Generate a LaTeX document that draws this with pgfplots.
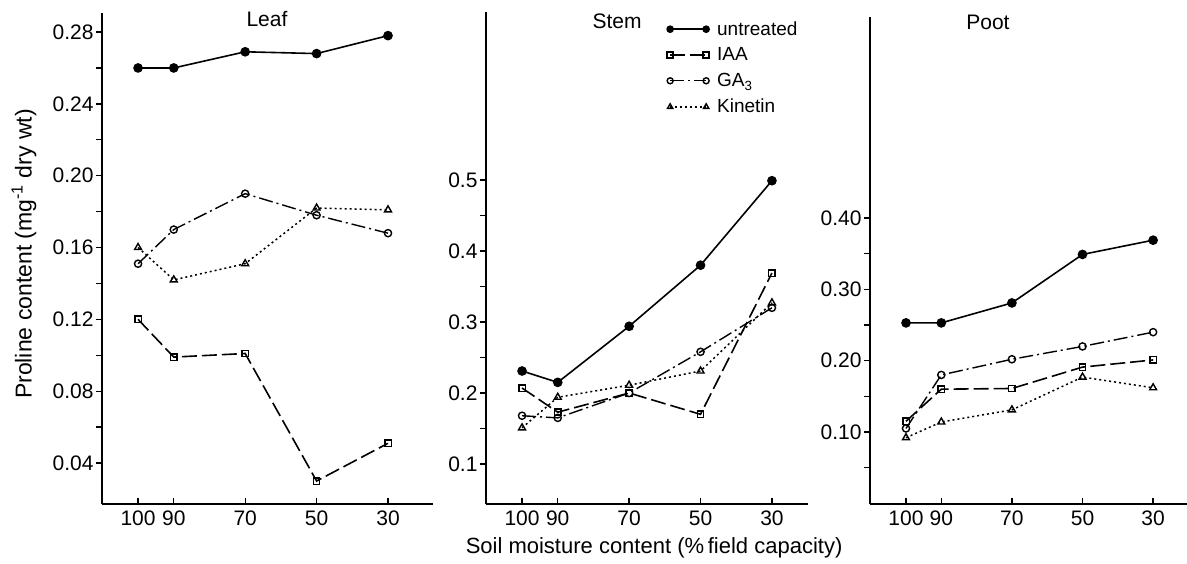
\documentclass[border=0pt]{standalone}
\usepackage{pgfplots}
\pgfplotsset{compat=1.18}
\usepackage{fontspec}
\setmainfont{Liberation Sans}
\begin{document}
\begin{tikzpicture}
\path[use as bounding box] (0pt,0pt) rectangle (1187pt,563pt);
\pgfplotsset{
  panel/.style={
    scale only axis,
    axis lines=left,
    axis line style={-, line width=1.5pt},
    x dir=reverse,
    xtick={100,90,70,50,30},
    xtick align=inside,
    ytick align=outside,
    major tick length=6pt,
    minor tick length=6pt,
    every tick/.style={black, line width=1.3pt},
    /pgf/number format/assume math mode=true,
    tick label style={font=\fontsize{21}{21}\selectfont},
    xticklabel style={yshift=-3pt},
    yticklabel style={xshift=1pt},
    title style={font=\fontsize{21}{21}\selectfont, anchor=center},
    clip=false,
  },
  untr/.style={black, line width=1.6pt, solid, mark=*, mark size=4pt, mark options={solid, fill=black}},
  iaa/.style={black, line width=1.6pt, dash pattern=on 15pt off 5pt, mark=square, mark size=3.2pt, mark options={solid, line width=1.4pt, fill=white}},
  ga/.style={black, line width=1.4pt, dash pattern=on 14pt off 4pt on 2pt off 4pt, mark=o, mark size=3.6pt, mark options={solid, line width=1.4pt, fill=white}},
  kin/.style={black, line width=1.5pt, dash pattern=on 2pt off 3pt, mark=triangle, mark size=4pt, mark options={solid, line width=1.4pt, fill=white}},
}
% ---------------- Leaf ----------------
\begin{axis}[panel,
  at={(102pt,59pt)}, anchor=south west,
  width=331pt, height=491pt,
  xmin=17.4, xmax=110.1, ymin=0.0172, ymax=0.2906,
  ytick={0.04,0.08,0.12,0.16,0.20,0.24,0.28},
  minor ytick={0.06,0.10,0.14,0.18,0.22,0.26},
  yticklabel style={/pgf/number format/.cd, fixed, fixed zerofill, precision=2},
  title={Leaf}, title style={at={(axis description cs:0.4985,0.9756)}},
  ylabel={Proline content (mg\textsuperscript{-1} dry wt)},
  ylabel style={at={(axis description cs:-0.2356,0.509)}, anchor=center, rotate=0, font=\fontsize{23}{23}\selectfont},
]
\addplot[untr] coordinates {(100,0.260) (90,0.260) (70,0.269) (50,0.268) (30,0.278)};
\addplot[iaa] coordinates {(100,0.120) (90,0.099) (70,0.101) (50,0.030) (30,0.051)};
\addplot[ga] coordinates {(100,0.151) (90,0.170) (70,0.190) (50,0.178) (30,0.168)};
\addplot[kin] coordinates {(100,0.160) (90,0.142) (70,0.151) (50,0.182) (30,0.181)};
\end{axis}
% ---------------- Stem ----------------
\begin{axis}[panel,
  at={(486pt,59pt)}, anchor=south west,
  width=322pt, height=492pt,
  xmin=19.9, xmax=110.1, ymin=0.0437, ymax=0.7366,
  ytick={0.1,0.2,0.3,0.4,0.5},
  minor ytick={0.15,0.25,0.35,0.45},
  yticklabel style={/pgf/number format/.cd, fixed, fixed zerofill, precision=1},
  title={Stem}, title style={at={(axis description cs:0.407,0.9695)}},
  xlabel={Soil moisture content (\%\,field capacity)},
  xlabel style={at={(axis description cs:0.522,-0.0894)}, anchor=center, font=\fontsize{22}{22}\selectfont},
  legend style={at={(axis description cs:0.562,0.983)}, anchor=north west, draw=none, fill=none,
    inner sep=0pt, row sep=9pt, font=\fontsize{19}{19}\selectfont,
    nodes={inner sep=1pt},
    /tikz/every odd column/.append style={column sep=7pt}},
  legend cell align=left,
  legend image code/.code={\draw[#1, mark repeat=1, mark size=3pt] plot coordinates {(0pt,0pt) (36pt,0pt)};},
]
\addplot[untr] coordinates {(100,0.231) (90,0.215) (70,0.294) (50,0.380) (30,0.499)};
\addlegendentry{untreated}
\addplot[iaa] coordinates {(100,0.207) (90,0.173) (70,0.200) (50,0.170) (30,0.369)};
\addlegendentry{IAA}
\addplot[ga] coordinates {(100,0.168) (90,0.165) (70,0.200) (50,0.258) (30,0.320)};
\addlegendentry{GA\textsubscript{3}}
\addplot[kin] coordinates {(100,0.151) (90,0.194) (70,0.211) (50,0.231) (30,0.327)};
\addlegendentry{Kinetin}
\end{axis}
% ---------------- Root ----------------
\begin{axis}[panel,
  at={(870pt,59pt)}, anchor=south west,
  width=317pt, height=487pt,
  xmin=20.4, xmax=110.2, ymin=-0.001, ymax=0.682,
  ytick={0.1,0.2,0.3,0.4},
  minor ytick={0.05,0.15,0.25,0.35},
  yticklabel style={/pgf/number format/.cd, fixed, fixed zerofill, precision=2},
  title={Poot}, title style={at={(axis description cs:0.372,0.977)}},
]
\addplot[untr] coordinates {(100,0.253) (90,0.253) (70,0.281) (50,0.349) (30,0.369)};
\addplot[iaa] coordinates {(100,0.115) (90,0.160) (70,0.161) (50,0.191) (30,0.201)};
\addplot[ga] coordinates {(100,0.105) (90,0.180) (70,0.202) (50,0.220) (30,0.240)};
\addplot[kin] coordinates {(100,0.092) (90,0.114) (70,0.131) (50,0.177) (30,0.162)};
\end{axis}
\end{tikzpicture}
\end{document}
